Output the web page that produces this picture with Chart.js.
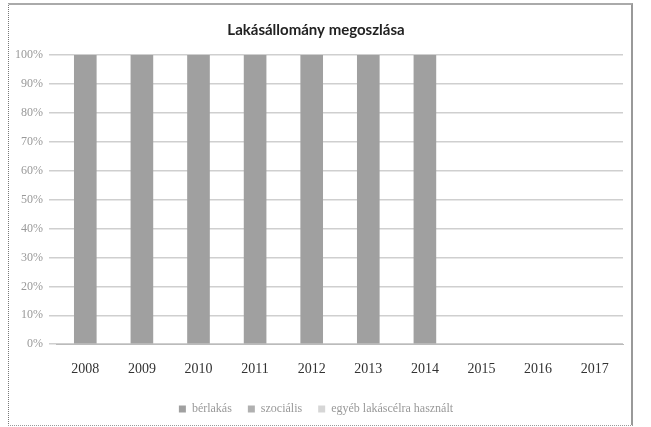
<!DOCTYPE html>
<html>
<head>
<meta charset="utf-8">
<script src="https://cdn.jsdelivr.net/npm/chart.js@4/dist/chart.umd.min.js"></script>
<style>
    body { margin: 0; background: #fff; }
    #keret {
        position: absolute; left: 8px; top: 3px; width: 622px; height: 420px;
        border-left: 1px dotted #777; border-bottom: 1px dotted #999;
        border-right: 2px solid #999; border-top: 2px solid #aaa;
    }
</style>
</head>
<body>
<div id="keret"><canvas id="grafikon"></canvas></div>
<script>
const evek = ['2008', '2009', '2010', '2011', '2012', '2013', '2014', '2015', '2016', '2017'];
// 100%-os halmozott oszlopok, a képen csak a bérlakás látszik
const berlakas = [100, 100, 100, 100, 100, 100, 100, null, null, null];
const szocialis = [0, 0, 0, 0, 0, 0, 0, null, null, null];
const egyeb = [0, 0, 0, 0, 0, 0, 0, null, null, null];
const szazalekok = [0, 10, 20, 30, 40, 50, 60, 70, 80, 90, 100];

let ctx = document.getElementById('grafikon').getContext('2d');

new Chart(ctx, {
    type: 'bar',
    data: {
        labels: evek,
        datasets: [
            { label: 'bérlakás', data: berlakas, backgroundColor: '#a0a0a0' },
            { label: 'szociális', data: szocialis, backgroundColor: '#b0b0b0' },
            { label: 'egyéb lakáscélra használt', data: egyeb, backgroundColor: '#d6d6d6' }
        ]
    },
    options: {
        responsive: true,
        maintainAspectRatio: false,
        animation: false,
        layout: { padding: { left: 0, right: 8, top: 4, bottom: 0 } },
        datasets: { bar: { categoryPercentage: 0.8, barPercentage: 0.5 } },
        plugins: {
            title: {
                display: true,
                text: 'Lakásállomány megoszlása',
                color: '#222',
                font: { family: 'Lato', size: 15, weight: 'bold' },
                padding: { top: 12, bottom: 16 }
            },
            legend: {
                position: 'bottom',
                labels: {
                    boxWidth: 7, boxHeight: 7, color: '#999',
                    font: { family: 'Liberation Serif', size: 12 },
                    padding: 16
                }
            },
            tooltip: { enabled: false }
        },
        scales: {
            x: {
                stacked: true,
                grid: { display: false },
                border: { color: '#bbb' },
                ticks: { color: '#333', font: { family: 'Liberation Serif', size: 14 }, padding: 9 }
            },
            y: {
                stacked: true,
                min: 0,
                max: 100,
                afterBuildTicks: function (axis) {
                    axis.ticks = szazalekok.map(function (v) { return { value: v }; });
                },
                grid: { color: '#cfcfcf', lineWidth: 1.5 },
                border: { display: false },
                ticks: {
                    color: '#999',
                    font: { family: 'Liberation Serif', size: 12 },
                    padding: 6,
                    callback: function (v) { return v + '%'; }
                }
            }
        }
    }
});
</script>
</body>
</html>
